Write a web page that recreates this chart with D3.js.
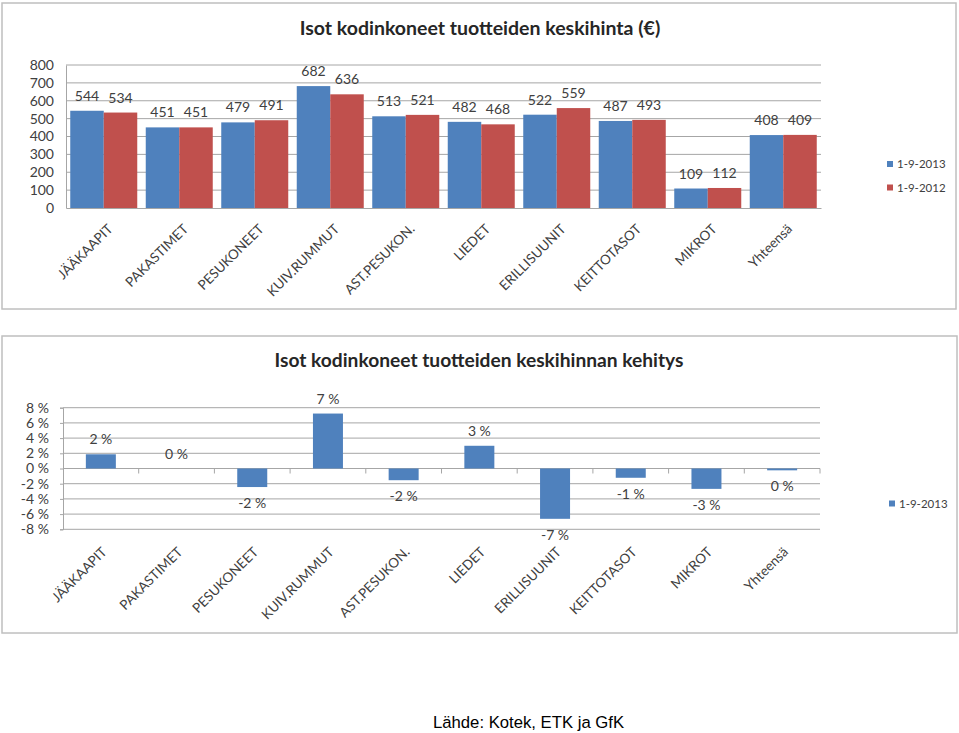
<!DOCTYPE html>
<html>
<head>
<meta charset="utf-8">
<script src="https://cdn.jsdelivr.net/npm/d3@7"></script>
<style>
  html, body { margin: 0; padding: 0; background: #ffffff; }
  svg { display: block; }
  .lato { font-family: Lato, "Open Sans", sans-serif; }
  .src { font-family: "Liberation Sans", Arial, sans-serif; }
</style>
</head>
<body>
<svg id="chart" width="959" height="733"></svg>
<script>
// ---------- DATA ----------
const categories = ["JÄÄKAAPIT", "PAKASTIMET", "PESUKONEET", "KUIV.RUMMUT", "AST.PESUKON.",
  "LIEDET", "ERILLISUUNIT", "KEITTOTASOT", "MIKROT", "Yhteensä"];
const price2013 = [544, 451, 479, 682, 513, 482, 522, 487, 109, 408];
const price2012 = [534, 451, 491, 636, 521, 468, 559, 493, 112, 409];
const changePct = [1.87, 0, -2.44, 7.23, -1.54, 2.99, -6.62, -1.22, -2.68, -0.24];
const seriesNames = ["1-9-2013", "1-9-2012"];
const topTicks = [0, 100, 200, 300, 400, 500, 600, 700, 800];
const bottomTicks = [-8, -6, -4, -2, 0, 2, 4, 6, 8];
const topTitle = "Isot kodinkoneet tuotteiden keskihinta (€)";
const bottomTitle = "Isot kodinkoneet tuotteiden keskihinnan kehitys";
const sourceText = "Lähde: Kotek, ETK ja GfK";

// ---------- STYLE ----------
const colors = ["#4F81BD", "#C0504D"];
const gridColor = "#A6A6A6";
const textColor = "#404040";
const borderColor = "#BFBFBF";

const svg = d3.select("#chart");

// ================= TOP CHART =================
{
  const g = svg.append("g").attr("class", "lato");
  g.append("rect").attr("x", 2).attr("y", 3).attr("width", 954).attr("height", 306)
    .attr("fill", "#fff").attr("stroke", borderColor).attr("stroke-width", 1.5);

  g.append("text").attr("x", 480).attr("y", 35).attr("text-anchor", "middle")
    .attr("font-size", 19.5).attr("font-weight", "bold").attr("fill", "#262626")
    .text(topTitle);

  const x0 = d3.scaleBand().domain(categories).range([66, 821])
    .paddingInner(0.1126).paddingOuter(0.0563);
  const x1 = d3.scaleBand().domain(seriesNames).range([0, x0.bandwidth()]);
  const y = d3.scaleLinear().domain([0, 800]).range([208, 65]);

  // gridlines
  g.append("g").selectAll("line").data(topTicks.filter(d => d > 0)).join("line")
    .attr("x1", 66).attr("x2", 821).attr("y1", d => y(d)).attr("y2", d => y(d))
    .attr("stroke", gridColor).attr("stroke-width", 1);

  // y axis labels
  const yAxis = d3.axisLeft(y).tickValues(topTicks).tickSize(0).tickPadding(12);
  const ya = g.append("g").attr("transform", "translate(66,0)").call(yAxis);
  ya.attr("font-family", null).attr("font-size", null);
  ya.select(".domain").attr("stroke", gridColor);
  ya.selectAll("text").attr("font-size", 14).attr("fill", textColor);

  const data = categories.map((c, i) => ({ c, vals: [price2013[i], price2012[i]] }));
  const groups = g.append("g").selectAll("g").data(data).join("g")
    .attr("transform", d => `translate(${x0(d.c)},0)`);
  groups.selectAll("rect").data(d => d.vals.map((v, k) => ({ v, k }))).join("rect")
    .attr("x", d => x1(seriesNames[d.k])).attr("width", x1.bandwidth())
    .attr("y", d => y(d.v)).attr("height", d => y(0) - y(d.v))
    .attr("fill", d => colors[d.k]);
  groups.selectAll("text").data(d => d.vals.map((v, k) => ({ v, k }))).join("text")
    .attr("x", d => x1(seriesNames[d.k]) + x1.bandwidth() / 2)
    .attr("y", d => y(d.v) - 10).attr("text-anchor", "middle")
    .attr("font-size", 14).attr("fill", textColor).text(d => d.v);

  // x axis line
  const xa = d3.axisBottom(x0).tickSize(0).tickFormat("");
  g.append("g").attr("transform", "translate(0,208)").call(xa)
    .select(".domain").attr("stroke", gridColor);

  // x labels
  g.append("g").selectAll("text").data(categories).join("text")
    .attr("transform", d => `translate(${x0(d) + x0.bandwidth() / 2 + 3},${223}) rotate(-45)`)
    .attr("text-anchor", "end").attr("dy", "0.71em")
    .attr("font-size", 13.5).attr("fill", textColor).text(d => d);

  // legend
  const lg = g.append("g").selectAll("g").data(seriesNames).join("g")
    .attr("transform", (d, i) => `translate(887,${161 + i * 23.5})`);
  lg.append("rect").attr("width", 6).attr("height", 6).attr("fill", (d, i) => colors[i]);
  lg.append("text").attr("x", 10).attr("y", 3).attr("dy", "0.35em")
    .attr("font-size", 11.5).attr("fill", textColor).text(d => d);
}

// ================= BOTTOM CHART =================
{
  const g = svg.append("g").attr("class", "lato");
  g.append("rect").attr("x", 2).attr("y", 336).attr("width", 955).attr("height", 297)
    .attr("fill", "#fff").attr("stroke", borderColor).attr("stroke-width", 1.5);

  g.append("text").attr("x", 479).attr("y", 367).attr("text-anchor", "middle")
    .attr("font-size", 19.2).attr("font-weight", "bold").attr("fill", "#262626")
    .text(bottomTitle);

  const x = d3.scaleBand().domain(categories).range([63, 820])
    .paddingInner(0.6037).paddingOuter(0.3018);
  const xb = d3.scaleBand().domain(categories).range([63, 820]);
  const y = d3.scaleLinear().domain([-8, 8]).range([529.3, 407.7]);

  g.append("g").selectAll("line").data(bottomTicks).join("line")
    .attr("x1", 63).attr("x2", 820).attr("y1", d => y(d)).attr("y2", d => y(d))
    .attr("stroke", gridColor).attr("stroke-width", 1);

  const yAxis = d3.axisLeft(y).tickValues(bottomTicks).tickSize(3).tickPadding(11)
    .tickFormat(d => String(d) + " %");
  const ya = g.append("g").attr("transform", "translate(63,0)").call(yAxis);
  ya.attr("font-family", null).attr("font-size", null);
  ya.select(".domain").attr("stroke", gridColor);
  ya.selectAll("line").attr("stroke", gridColor);
  ya.selectAll("text").attr("font-size", 14).attr("fill", textColor);

  // bars
  g.append("g").selectAll("rect").data(categories.map((c, i) => ({ c, v: changePct[i] }))).join("rect")
    .attr("x", d => x(d.c)).attr("width", x.bandwidth())
    .attr("y", d => Math.min(y(d.v), y(0))).attr("height", d => Math.abs(y(d.v) - y(0)))
    .attr("fill", colors[0]);

  // zero axis with ticks at category boundaries
  const boundaries = categories.map(c => xb(c)).concat([820]);
  g.append("g").selectAll("line").data(boundaries.slice(1)).join("line")
    .attr("x1", d => d).attr("x2", d => d).attr("y1", y(0)).attr("y2", y(0) + 5)
    .attr("stroke", gridColor);

  // value labels
  g.append("g").selectAll("text").data(categories.map((c, i) => ({ c, v: changePct[i] }))).join("text")
    .attr("x", d => x(d.c) + x.bandwidth() / 2)
    .attr("y", d => d.v >= 0 ? y(d.v) - 10 : y(d.v) + 21)
    .attr("text-anchor", "middle").attr("font-size", 14).attr("fill", textColor)
    .text(d => String(Math.round(d.v) === 0 ? 0 : Math.round(d.v)) + " %");

  // x labels
  g.append("g").selectAll("text").data(categories).join("text")
    .attr("transform", d => `translate(${xb(d) + xb.bandwidth() / 2},${546}) rotate(-45)`)
    .attr("text-anchor", "end").attr("dy", "0.71em")
    .attr("font-size", 13.5).attr("fill", textColor).text(d => d);

  // legend
  const lg = g.append("g").attr("transform", "translate(889,500.5)");
  lg.append("rect").attr("width", 6).attr("height", 6).attr("fill", colors[0]);
  lg.append("text").attr("x", 10).attr("y", 3).attr("dy", "0.35em")
    .attr("font-size", 11.5).attr("fill", textColor).text(seriesNames[0]);
}

// source
svg.append("text").attr("class", "src").attr("x", 433).attr("y", 728)
  .attr("font-size", 16.7).attr("fill", "#000").text(sourceText);
</script>
</body>
</html>
